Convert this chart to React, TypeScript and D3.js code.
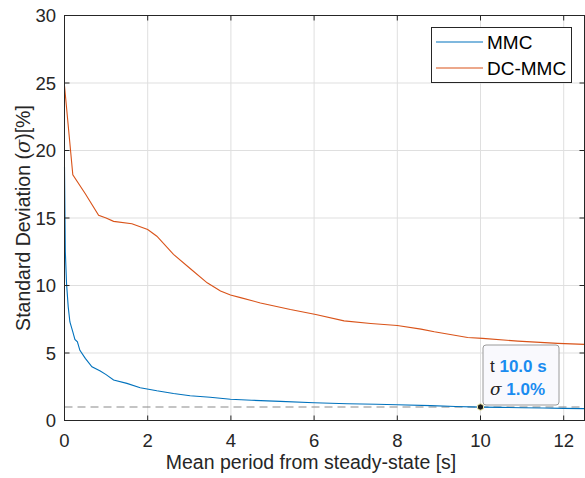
import React from "react";
import * as d3 from "d3";

const mmcX = [0, 0.02, 0.05, 0.09, 0.13, 0.2, 0.25, 0.31, 0.37, 0.5, 0.66, 0.86, 1.0, 1.18, 1.5, 1.82, 2.22, 2.62, 3.02, 3.5, 3.99, 4.5, 5.19, 6.0, 6.8, 7.5, 8.0, 8.8, 9.4, 10.0, 10.5, 11.0, 11.5, 12.0, 12.5];
const mmcY = [18.8, 12.5, 10.1, 8.4, 7.3, 6.57, 6.0, 5.83, 5.2, 4.6, 3.98, 3.66, 3.4, 3.0, 2.75, 2.43, 2.2, 2.0, 1.83, 1.72, 1.57, 1.5, 1.42, 1.32, 1.24, 1.2, 1.17, 1.1, 1.04, 0.99, 0.97, 0.95, 0.93, 0.9, 0.88];

const dcX = [0, 0.2, 0.5, 0.82, 1.0, 1.18, 1.62, 2.0, 2.22, 2.62, 3.02, 3.43, 3.75, 3.99, 4.23, 4.71, 5.43, 6.04, 6.72, 7.36, 8.0, 8.57, 8.89, 9.69, 10.05, 10.9, 11.86, 12.5];
const dcY = [24.8, 18.2, 16.8, 15.2, 15.0, 14.75, 14.58, 14.14, 13.65, 12.3, 11.26, 10.2, 9.6, 9.3, 9.1, 8.71, 8.22, 7.85, 7.38, 7.19, 7.04, 6.77, 6.57, 6.15, 6.08, 5.88, 5.71, 5.64];

const xTicks = [0, 2, 4, 6, 8, 10, 12];
const yTicks = [0, 5, 10, 15, 20, 25, 30];
const seriesNames = ["MMC", "DC-MMC"];
const thresholdY = 1;
const tipX = 10.0;
const tipY = 1.0;

const W = 585, H = 478;
const FONT = "'Liberation Sans', Arial, sans-serif";

export default function App() {
  const x = d3.scaleLinear().domain([0, 12.5]).range([64.5, 584.5]);
  const y = d3.scaleLinear().domain([0, 30]).range([420.5, 15.5]);
  const line = d3.line<[number, number]>().x(d => x(d[0])).y(d => y(d[1]));
  const mmc = mmcX.map((v, i) => [v, mmcY[i]] as [number, number]);
  const dc = dcX.map((v, i) => [v, dcY[i]] as [number, number]);
  const axisColor = "#262626";
  const grid = "#dfdfdf";
  const blue = "#0072BD";
  const orange = "#D95319";
  const x0 = x(0), x1 = x(12.5), y0 = y(0), y1 = y(30);
  const tipBlue = "#1a8cf0";
  return (
    <svg width={W} height={H} style={{ position: "absolute", left: 0, top: 0, background: "#fff" }} fontFamily={FONT}>
      {xTicks.map(t => (
        <line key={"gx" + t} x1={x(t)} x2={x(t)} y1={y0} y2={y1} stroke={grid} strokeWidth={1} />
      ))}
      {yTicks.map(t => (
        <line key={"gy" + t} x1={x0} x2={x1} y1={y(t)} y2={y(t)} stroke={grid} strokeWidth={1} />
      ))}
      <line x1={x0} x2={x1} y1={y(thresholdY)} y2={y(thresholdY)} stroke="#8a8a8a" strokeWidth={1.2} strokeDasharray="8,5" />
      <path d={line(dc) || ""} fill="none" stroke={orange} strokeWidth={1.1} />
      <path d={line(mmc) || ""} fill="none" stroke={blue} strokeWidth={1.1} />
      <rect x={x0} y={y1} width={x1 - x0} height={y0 - y1} fill="none" stroke={axisColor} strokeWidth={1} />
      {xTicks.map(t => (
        <g key={"xt" + t}>
          <line x1={x(t)} x2={x(t)} y1={y0} y2={y0 - 5} stroke={axisColor} />
          <line x1={x(t)} x2={x(t)} y1={y1} y2={y1 + 5} stroke={axisColor} />
          <text x={x(t)} y={447} textAnchor="middle" fontSize={18.5} fill={axisColor}>{t}</text>
        </g>
      ))}
      {yTicks.map(t => (
        <g key={"yt" + t}>
          <line x1={x0} x2={x0 + 5} y1={y(t)} y2={y(t)} stroke={axisColor} />
          <line x1={x1} x2={x1 - 5} y1={y(t)} y2={y(t)} stroke={axisColor} />
          <text x={56} y={y(t) + 6.5} textAnchor="end" fontSize={18.5} fill={axisColor}>{t}</text>
        </g>
      ))}
      <text x={311} y={469} textAnchor="middle" fontSize={19.5} fill={axisColor}>Mean period from steady-state [s]</text>
      <text transform={`translate(30,${(y0 + y1) / 2}) rotate(-90)`} textAnchor="middle" fontSize={19.5} fill={axisColor}>
        Standard Deviation (<tspan fontFamily="'DejaVu Serif', serif" fontStyle="italic">σ</tspan>)[%]
      </text>
      <rect x={431.5} y={27.5} width={140} height={55} fill="#fff" stroke={axisColor} strokeWidth={1} />
      <line x1={436} x2={483} y1={42} y2={42} stroke={blue} strokeWidth={1.1} />
      <line x1={436} x2={483} y1={68} y2={68} stroke={orange} strokeWidth={1.1} />
      <text x={487} y={48.5} fontSize={19} fill="#000">{seriesNames[0]}</text>
      <text x={487} y={75} fontSize={19} fill="#000">{seriesNames[1]}</text>
      <rect x={483} y={345} width={76} height={60} rx={3} ry={3} fill="#f9f9fd" stroke="#9a9a9a" strokeWidth={1} />
      <text x={490} y={372} fontSize={17} fill="#222">t <tspan fontWeight="bold" fill={tipBlue}>{tipX.toFixed(1)} s</tspan></text>
      <text x={490} y={395} fontSize={17} fill="#222"><tspan fontFamily="'DejaVu Serif', serif" fontStyle="italic">σ</tspan> <tspan fontWeight="bold" fill={tipBlue}>{tipY.toFixed(1)}%</tspan></text>
      <circle cx={x(tipX)} cy={y(tipY)} r={3.2} fill="#1a1a1a" stroke="#f5f0b0" strokeWidth={1} />
    </svg>
  );
}
